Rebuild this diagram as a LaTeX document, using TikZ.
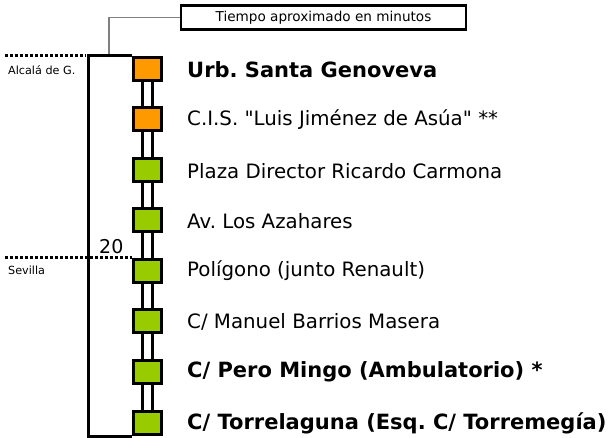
\documentclass[tikz,border=0pt]{standalone}
\usepackage{fontspec}
\setmainfont{DejaVu Sans}[Ligatures=TeXOff]
\usepackage{xcolor}
\usepackage{tikz}
\definecolor{stopOrange}{HTML}{FF9900}
\definecolor{stopGreen}{HTML}{99CC00}
\tikzset{
  stop/.style={draw=black,line width=3pt,minimum width=28pt,minimum height=23pt,inner sep=0pt},
  stopname/.style={anchor=west,inner sep=0pt,font=\fontsize{19.8}{22}\selectfont},
  boldname/.style={stopname,font=\fontsize{21}{23}\bfseries},
  link/.style={draw=black,double=white,double distance=7pt,line width=3pt},
  town/.style={anchor=west,inner sep=0pt,font=\fontsize{11.2}{13}\selectfont},
  border/.style={line width=3pt,dash pattern=on 3pt off 2pt}
}
\begin{document}
\frenchspacing
\begin{tikzpicture}[x=1pt,y=-1pt]
  \useasboundingbox (0,0) rectangle (613,438);
  % time legend
  \node[draw,line width=2.5pt,minimum width=285pt,minimum height=24pt,inner sep=0pt,
        font=\fontsize{13.6}{15}\selectfont] (legend) at (323.5,17.5) {Tiempo aproximado en minutos};
  \coordinate (tick) at (109,56);
  \draw[gray,line width=1.2pt] (tick) |- (legend.west);
  % links
  \coordinate (L1) at (147.5,69);
  \coordinate (L8) at (147.5,423);
  \draw[link] (L1) -- (L8);
  % stops
  \node[stop,fill=stopOrange] (S1) at (147.5,69) {};
  \node[stop,fill=stopOrange] (S2) at (147.5,119) {};
  \node[stop,fill=stopGreen] (S3) at (147.5,170) {};
  \node[stop,fill=stopGreen] (S4) at (147.5,220) {};
  \node[stop,fill=stopGreen] (S5) at (147.5,271) {};
  \node[stop,fill=stopGreen] (S6) at (147.5,321) {};
  \node[stop,fill=stopGreen] (S7) at (147.5,372) {};
  \node[stop,fill=stopGreen] (S8) at (147.5,423) {};
  % bracket
  \coordinate (topleft) at (88,0 |- S1.north west);
  \draw[line width=3pt] (S1.north west) -- (topleft) |- (S8.south west);
  % names
  \node[boldname] (N1) at (187,70) {Urb. Santa Genoveva};
  \node[stopname] (N2) at (187,120) {C.I.S. "Luis Jiménez de Asúa" **};
  \node[stopname] (N3) at (187,171) {Plaza Director Ricardo Carmona};
  \node[stopname] (N4) at (187,221) {Av. Los Azahares};
  \node[stopname] (N5) at (187,271) {Polígono (junto Renault)};
  \node[stopname] (N6) at (187,322) {C/ Manuel Barrios Masera};
  \node[boldname] (N7) at (187,372) {C/ Pero Mingo (Ambulatorio) *};
  \node[boldname] (N8) at (187,423) {C/ Torrelaguna (Esq. C/ Torremegía)};
  % limits
  \coordinate (alcala) at (5,56);
  \coordinate (sevilla) at (5,0 |- S5.north);
  \draw[border] (alcala) -- (86,56);
  \draw[border] (sevilla) -- (S5.north west);
  \node[town] (A) at (8,70) {Alcalá de G.};
  \node[town] (B) at (8,270) {Sevilla};
  \node[anchor=south west,inner sep=0pt,font=\fontsize{19}{22}\selectfont] (T20) at (99,254) {20};
\end{tikzpicture}
\end{document}
